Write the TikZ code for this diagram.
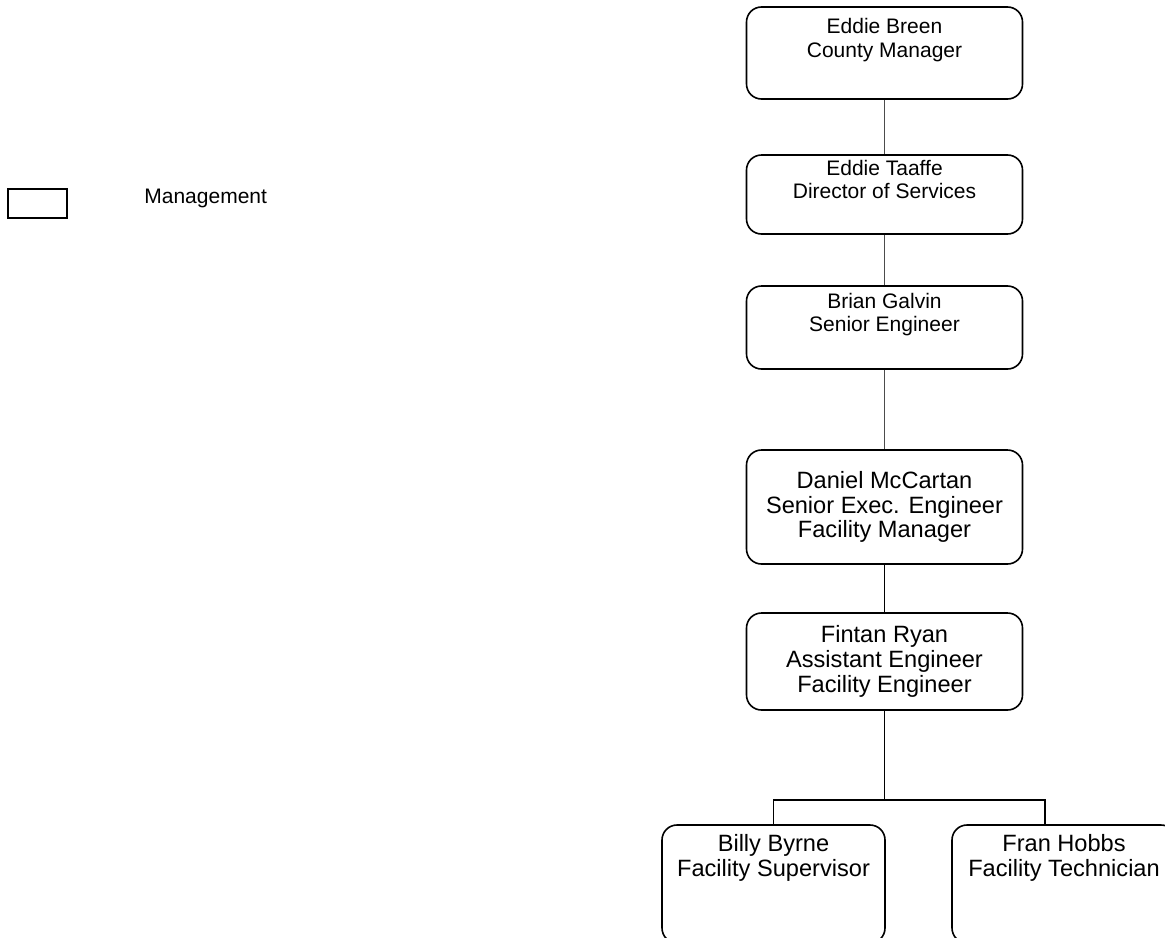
\documentclass[tikz,border=0pt]{standalone}
\usepackage{fontspec}
\setmainfont{Liberation Sans}

\tikzset{
  post/.style={draw, line width=0.8pt, rounded corners=7.5pt, align=center, inner sep=0pt, minimum width=138pt},
  smalltxt/.style={font=\fontsize{10.5}{11.75}\selectfont},
  bigtxt/.style={font=\fontsize{11.8}{12.4}\selectfont},
  thinlink/.style={line width=0.55pt, black!70},
  thicklink/.style={line width=0.85pt}
}

\begin{document}
\begin{tikzpicture}[x=0.5pt, y=-0.5pt]
    \useasboundingbox (0,0) rectangle (1165,937);
    % legend
    \node[draw, line width=0.8pt, minimum width=29.5pt, minimum height=14.5pt, inner sep=0pt] (key) at (37.5,203.5) {};
    \node[smalltxt, anchor=base west, inner sep=0pt] (keytext) at (144,203) {Management};
    % chain of posts
    \node[post, smalltxt, minimum height=46pt] (breen) at (884.5,53) {Eddie Breen\\County Manager\\\strut};
    \node[post, smalltxt, minimum height=39.5pt] (taaffe) at (884.5,194.5) {Eddie Taaffe\\Director of Services\\\strut};
    \node[post, smalltxt, minimum height=41.5pt] (galvin) at (884.5,327.5) {Brian Galvin\\Senior Engineer\\\strut};
    \node[post, bigtxt, minimum height=57pt] (mccartan) at (884.5,507) {Daniel McCartan\\Senior Exec. Engineer\\Facility Manager};
    \node[post, bigtxt, minimum height=48.5pt] (ryan) at (884.5,661.5) {Fintan Ryan\\Assistant Engineer\\Facility Engineer};
    \node[post, bigtxt, minimum width=111.5pt, minimum height=59pt] (byrne) at (773.5,884) {Billy Byrne\\Facility Supervisor\\\strut\\\strut};
    \node[post, bigtxt, minimum width=112pt, minimum height=59pt] (hobbs) at (1064,884) {Fran Hobbs\\Facility Technician\\\strut\\\strut};
    \coordinate (fork) at (884.5,800);
    \coordinate (hobbsin) at (1045,825);
    % links
    \draw[thinlink] (breen) -- (taaffe);
    \draw[thinlink] (taaffe) -- (galvin);
    \draw[thinlink] (galvin) -- (mccartan);
    \draw[thicklink] (mccartan) -- (ryan);
    \draw[thicklink] (ryan) -- (fork);
    \draw[thicklink] (byrne.north) |- (fork) -| (hobbsin);
\end{tikzpicture}
\end{document}
